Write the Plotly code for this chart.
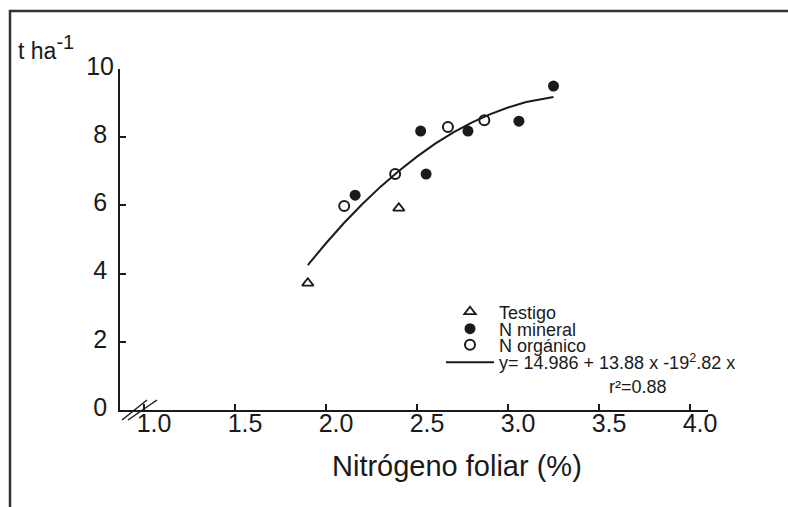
import plotly.graph_objects as go

# ---- data ----
testigo_x = [1.90, 2.40]
testigo_y = [3.72, 5.92]

mineral_x = [2.16, 2.52, 2.55, 2.78, 3.06, 3.25]
mineral_y = [6.30, 8.18, 6.92, 8.18, 8.47, 9.50]

organico_x = [2.10, 2.38, 2.67, 2.87]
organico_y = [5.98, 6.92, 8.30, 8.50]

curve_x = [1.90, 2.00, 2.10, 2.20, 2.30, 2.40, 2.50, 2.60, 2.70, 2.80, 2.90, 3.00, 3.10, 3.20, 3.25]
curve_y = [4.25, 4.89, 5.49, 6.04, 6.55, 7.01, 7.43, 7.81, 8.14, 8.43, 8.67, 8.87, 9.03, 9.14, 9.18]

x_tickvals = [1.0, 1.5, 2.0, 2.5, 3.0, 3.5, 4.0]
x_ticktext = ["1.0", "1.5", "2.0", "2.5", "3.0", "3.5", "4.0"]
y_tickvals = [0, 2, 4, 6, 8, 10]
y_ticktext = ["0\u00a0", "2\u00a0", "4\u00a0", "6\u00a0", "8\u00a0", "10"]

NB = "\u00a0"
names = ["Testigo", "N mineral", "N orgánico",
         "y= 14.986 + 13.88 x -19<sup>2</sup>.82 x<br>" + NB * 22 + "r²=0.88"]

INK = "#1a1a1a"
FONT = "Liberation Sans, Arial, sans-serif"

# plot-area geometry (pixels)
L, R, T, B = 120, 80, 69, 97
W, H = 788, 507
PW, PH = W - L - R, H - T - B


def px(xp):
    return (xp - L) / PW


def py(yp):
    return (H - B - yp) / PH


fig = go.Figure()

fig.add_trace(go.Scatter(
    x=curve_x, y=curve_y, mode="lines", name=names[3],
    line=dict(color=INK, width=2), legend="legend4", showlegend=True))

fig.add_trace(go.Scatter(
    x=testigo_x, y=testigo_y, mode="markers", name=names[0],
    marker=dict(symbol="triangle-up-open", size=10, color=INK, line=dict(width=1.8, color=INK)),
    legend="legend", showlegend=True))

fig.add_trace(go.Scatter(
    x=mineral_x, y=mineral_y, mode="markers", name=names[1],
    marker=dict(symbol="circle", size=11, color=INK, line=dict(width=0)),
    legend="legend2", showlegend=True))

fig.add_trace(go.Scatter(
    x=organico_x, y=organico_y, mode="markers", name=names[2],
    marker=dict(symbol="circle-open", size=10, color=INK, line=dict(width=2, color=INK)),
    legend="legend3", showlegend=True))

leg_common = dict(font=dict(family=FONT, size=18, color=INK), bgcolor="rgba(0,0,0,0)",
                  borderwidth=0, xanchor="left", yanchor="middle", itemwidth=48,
                  tracegroupgap=0, valign="top", visible=True)
legx = px(441)

fig.update_layout(
    width=W, height=H,
    margin=dict(l=L, r=R, t=T, b=B),
    paper_bgcolor="white", plot_bgcolor="white",
    font=dict(family=FONT, color=INK),
    showlegend=True,
    legend=dict(x=legx, y=py(312), **leg_common),
    legend2=dict(x=legx, y=py(329), **leg_common),
    legend3=dict(x=legx, y=py(345), **leg_common),
    legend4=dict(x=legx, y=py(344), **{**leg_common, "yanchor": "top"}),
    xaxis=dict(
        range=[1.0 - 24 / 182, 4.0 + 18 / 182],
        tickvals=x_tickvals, ticktext=x_ticktext,
        ticks="inside", ticklen=6, tickwidth=1.5, tickcolor=INK,
        showline=True, linecolor=INK, linewidth=2,
        showgrid=False, zeroline=False,
        tickfont=dict(family=FONT, size=25, color=INK),
        ticklabelshift=10, ticklabelstandoff=-10,
    ),
    yaxis=dict(
        range=[0, 10],
        tickvals=y_tickvals, ticktext=y_ticktext,
        ticks="inside", ticklen=6, tickwidth=1.5, tickcolor=INK,
        showline=True, linecolor=INK, linewidth=2,
        showgrid=False, zeroline=False,
        tickfont=dict(family=FONT, size=25, color=INK),
        ticklabelstandoff=-1, ticklabelshift=-3,
    ),
    annotations=[
        dict(text="Nitrógeno foliar (%)", xref="paper", yref="paper",
             x=px(457), y=py(466), xanchor="center", yanchor="middle",
             showarrow=False, font=dict(family=FONT, size=29, color=INK)),
        dict(text="t ha<sup><span style='font-size:20px'>-1</span></sup>", xref="paper", yref="paper",
             x=px(16), y=py(66), xanchor="left", yanchor="bottom",
             showarrow=False, font=dict(family=FONT, size=23, color=INK)),
    ],
    shapes=[
        # outer frame (top and left edges)
        dict(type="line", xref="paper", yref="paper", x0=px(9), x1=px(790), y0=py(11), y1=py(11),
             line=dict(color="#333333", width=2.5)),
        dict(type="line", xref="paper", yref="paper", x0=px(10), x1=px(10), y0=py(10), y1=py(510),
             line=dict(color="#333333", width=2.5)),
        # axis break marks
        dict(type="line", xref="paper", yref="paper", x0=px(122), x1=px(147), y0=py(420), y1=py(400),
             line=dict(color=INK, width=1.5)),
        dict(type="line", xref="paper", yref="paper", x0=px(128), x1=px(157), y0=py(420), y1=py(400),
             line=dict(color=INK, width=1.5)),
    ],
)

fig.write_html("out.html")
